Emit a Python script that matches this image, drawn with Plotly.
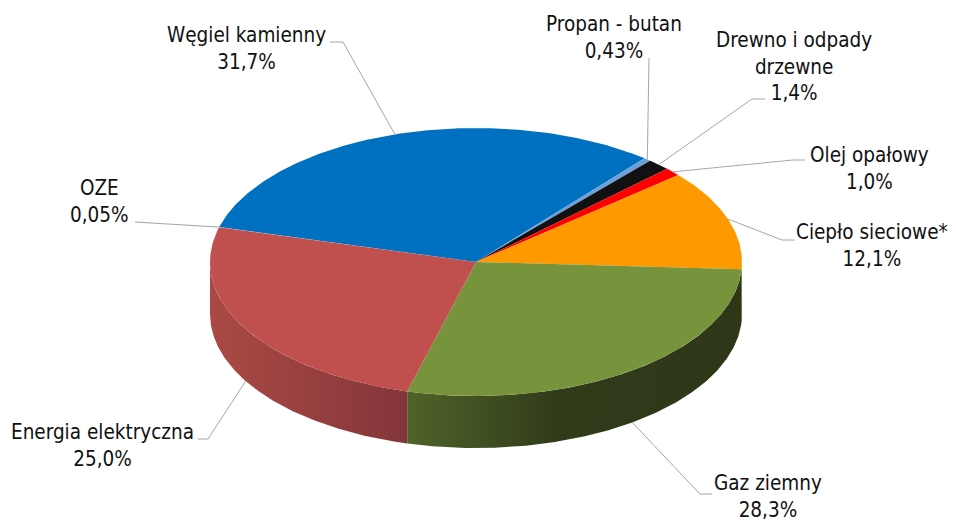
import numpy as np
import plotly.graph_objects as go

# ---- data ----
categories = ["OZE", "Węgiel kamienny", "Propan - butan", "Drewno i odpady<br>drzewne",
              "Olej opałowy", "Ciepło sieciowe*", "Gaz ziemny", "Energia elektryczna"]
shares = [0.05, 31.7, 0.43, 1.4, 1.0, 12.1, 28.3, 25.0]

# ---- style ----
top_colors = ["#8064A2", "#0070C0", "#6F9FD8", "#111111", "#FF0000", "#FF9900", "#77933C", "#C0504D"]
side_scales = [
    [[0, "#4d3c66"], [1, "#3b2e4f"]],
    [[0, "#00508a"], [1, "#003f6d"]],
    [[0, "#4a6f99"], [1, "#3a5a7d"]],
    [[0, "#0a0a0a"], [1, "#050505"]],
    [[0, "#a00000"], [1, "#800000"]],
    [[0, "#8a5200"], [1, "#6e4200"]],
    [[0, "#4f6329"], [0.45, "#303b1a"], [1, "#2e3819"]],
    [[0, "#ab4a45"], [1, "#84353a"]],
]
label_pos = [(99, 201), (246, 48), (614, 37), (794, 66), (869, 168), (872, 245), (768, 496), (102, 445)]
leader_elbows = [
    [(135, 222)],
    [(343, 42), (330, 42)],
    [(649, 58)],
    [(752, 99), (765, 99)],
    [(793, 160), (805, 160)],
    [(782, 240), (795, 240)],
    [(700, 494), (712, 494)],
    [(208, 439), (198, 439)],
]
cx, cy, rx, ry, depth = 476, 262, 266, 134, 52
start_angle = 165.0
FONT = "DejaVu Sans Condensed, DejaVu Sans, sans-serif"
PAGE_OFFSET = 8  # default body margin of the html page


def fmt(v):
    s = f"{v:.2f}" if v < 1 else f"{v:.1f}"
    return s.replace(".", ",") + "%"


def ex(t):
    return cx + rx * np.cos(np.radians(t))


def ey(t, dz=0.0):
    return cy - ry * np.sin(np.radians(t)) + dz


total = sum(shares)
fig = go.Figure()

bounds = []
a = start_angle
for v in shares:
    span = v / total * 360.0
    bounds.append((a, a - span))
    a -= span

# side faces (front half only)
for i, (a0, a1) in enumerate(bounds):
    hi, lo = min(a0, 0.0), max(a1, -180.0)
    if hi > lo:
        th = np.linspace(hi, lo, max(3, int((hi - lo) * 2)))
        xs = list(ex(th)) + list(ex(th[::-1]))
        ys = list(ey(th)) + list(ey(th[::-1], depth))
        fig.add_trace(go.Scatter(
            x=xs, y=ys, mode="lines", fill="toself", line=dict(width=0),
            fillgradient=dict(type="horizontal", colorscale=side_scales[i]),
            hoverinfo="skip", showlegend=False))

# top faces
for i, (a0, a1) in enumerate(bounds):
    th = np.linspace(a0, a1, max(3, int((a0 - a1) * 2)))
    xs = [cx] + list(ex(th)) + [cx]
    ys = [cy] + list(ey(th)) + [cy]
    fig.add_trace(go.Scatter(
        x=xs, y=ys, mode="lines", fill="toself", fillcolor=top_colors[i],
        line=dict(width=0), name=categories[i].replace("<br>", " "),
        hoverinfo="name", showlegend=False))

# leader lines + labels
for i, (a0, a1) in enumerate(bounds):
    mid = (a0 + a1) / 2.0
    s = np.sin(np.radians(mid))
    ax_, ay_ = ex(mid), ey(mid, depth if s < 0 else 0.0)
    pts = [(ax_, ay_)] + leader_elbows[i]
    fig.add_trace(go.Scatter(
        x=[p[0] for p in pts], y=[p[1] for p in pts], mode="lines",
        line=dict(color="#A6A6A6", width=1), hoverinfo="skip", showlegend=False))
    fig.add_annotation(
        x=label_pos[i][0], y=label_pos[i][1], xref="x", yref="y",
        text=f"{categories[i]}<br>{fmt(shares[i])}", showarrow=False,
        xanchor="center", yanchor="middle", align="center",
        font=dict(family=FONT, size=20.5, color="#111111"))

fig.update_layout(
    width=956, height=520, margin=dict(l=0, r=0, t=0, b=0),
    paper_bgcolor="white", plot_bgcolor="white",
    xaxis=dict(range=[PAGE_OFFSET, 956 + PAGE_OFFSET], visible=False, fixedrange=True),
    yaxis=dict(range=[520 + PAGE_OFFSET, PAGE_OFFSET], visible=False, fixedrange=True),
    showlegend=False,
)
fig.write_html("out.html")
